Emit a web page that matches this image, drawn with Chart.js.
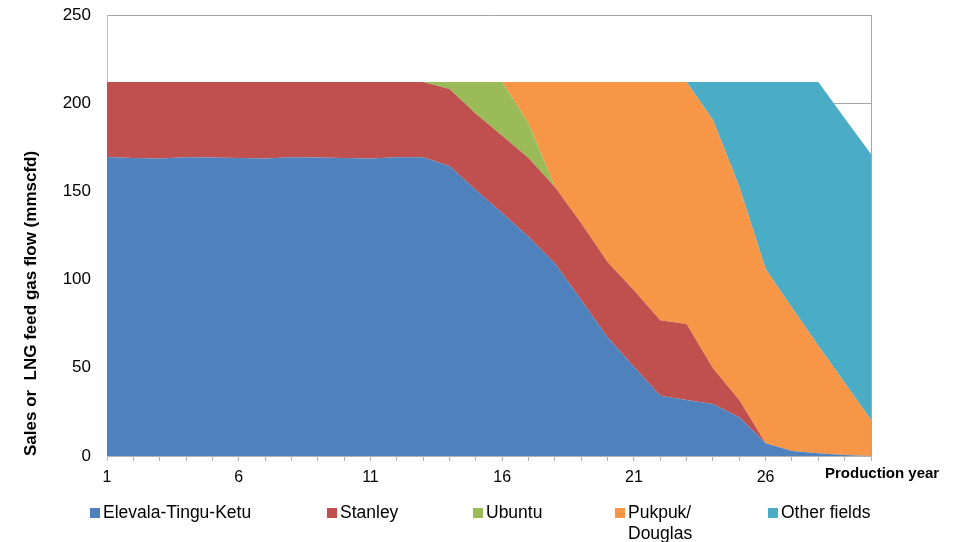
<!DOCTYPE html>
<html>
<head>
<meta charset="utf-8">
<script src="https://cdn.jsdelivr.net/npm/chart.js@4/dist/chart.umd.min.js"></script>
<style>
    body { margin: 0; background: #fff; }
    #wrap { position: relative; width: 958px; height: 542px; font-family: "Liberation Sans", Arial, sans-serif; }
    .x-title { position: absolute; left: 825px; top: 464px; font-size: 15px; font-weight: bold; color: #000; white-space: nowrap; }
    .legend-item { position: absolute; top: 502px; font-size: 17.5px; line-height: 21px; color: #000; }
    .legend-item .box { position: absolute; left: 0; top: 6px; width: 10px; height: 10px; }
    .legend-item .txt { position: absolute; left: 13px; top: 0; }
</style>
</head>
<body>
<div id="wrap">
    <canvas id="gasChart" width="958" height="542"></canvas>
    <div class="x-title">Production year</div>
    <div id="legend"></div>
</div>

<script>
// ============ DATA ============
const years = ["1","2","3","4","5","6","7","8","9","10","11","12","13","14","15",
               "16","17","18","19","20","21","22","23","24","25","26","27","28","29","30"];

const elevala = [169.5,169,168.7,169.4,169.2,169,168.7,169.4,169.2,169,168.7,169.4,169.4,164.4,150.8,
                 137.7,124.3,109.2,88.4,67.3,50.6,34.2,31.7,29.5,21.9,7.2,2.8,1.5,0.6,0];
const stanley = [42.5,43,43.3,42.6,42.8,43,43.3,42.6,42.8,43,43.3,42.6,42.6,43.6,43.2,
                 43.8,44.7,43.3,43.5,42.7,43.4,42.8,43.1,20.2,9.8,0,0,0,0,0];
const ubuntu  = [0,0,0,0,0,0,0,0,0,0,0,0,0,4,18,
                 30.5,19.6,0,0,0,0,0,0,0,0,0,0,0,0,0];
const pukpuk  = [0,0,0,0,0,0,0,0,0,0,0,0,0,0,0,
                 0,23.4,59.5,80.1,102,118,135,137.2,140.8,121,98.8,81.2,61,40.9,20.4];
const other   = [0,0,0,0,0,0,0,0,0,0,0,0,0,0,0,
                 0,0,0,0,0,0,0,0,21.5,59.3,106,128,149.5,149.9,150.8];

const seriesNames  = ["Elevala-Tingu-Ketu", "Stanley", "Ubuntu", "Pukpuk/ Douglas", "Other fields"];
const seriesColors = ["#4F81BD", "#C0504D", "#9BBB59", "#F79646", "#4BACC6"];
const yTicks = [0, 50, 100, 150, 200, 250];

// left edge of each legend entry
const legendX = [90, 327, 473, 615, 768];

// ============ CHART ============
const fontFamily = "'Liberation Sans', Arial, sans-serif";
Chart.defaults.font.family = fontFamily;
Chart.defaults.color = "#000";

const seriesData = [elevala, stanley, ubuntu, pukpuk, other];
const datasets = seriesData.map((values, i) => ({
    label: seriesNames[i],
    data: values,
    backgroundColor: seriesColors[i],
    borderColor: "transparent",
    borderWidth: 0,
    pointRadius: 0,
    pointHitRadius: 0,
    tension: 0,
    fill: i === 0 ? "origin" : "-1"
}));

// right edge of the plot area
const plotBorder = {
    id: "plotBorder",
    afterDatasetsDraw(chart) {
        const {ctx, chartArea} = chart;
        ctx.save();
        ctx.strokeStyle = "#a6a6a6";
        ctx.lineWidth = 1;
        ctx.beginPath();
        ctx.moveTo(Math.round(chartArea.right) + 0.5, chartArea.top);
        ctx.lineTo(Math.round(chartArea.right) + 0.5, chartArea.bottom);
        ctx.stroke();
        ctx.restore();
    }
};

new Chart(document.getElementById("gasChart"), {
    type: "line",
    data: { labels: years, datasets },
    options: {
        responsive: false,
        animation: false,
        devicePixelRatio: 1,
        layout: { padding: { left: 0, top: 15, right: 87, bottom: 56 } },
        plugins: { legend: { display: false }, tooltip: { enabled: false } },
        scales: {
            x: {
                offset: false,
                grid: { drawOnChartArea: false, drawTicks: true, tickLength: 5, color: "#b3b3b3" },
                border: { color: "#b3b3b3" },
                ticks: {
                    autoSkip: false,
                    maxRotation: 0,
                    padding: 7,
                    font: { size: 16 },
                    callback: (v, i) => (i % 5 === 0 ? years[i] : "")
                },
                afterFit: s => { s.height = 30; }
            },
            y: {
                stacked: true,
                min: 0,
                max: 250,
                afterBuildTicks: s => { s.ticks = yTicks.map(v => ({ value: v })); },
                // invisible tick marks give the label gap without padding the top of the plot
                grid: { drawTicks: true, tickLength: 16, tickColor: "transparent", color: "#a6a6a6" },
                border: { color: "#bfbfbf" },
                ticks: { padding: 0, font: { size: 17 } },
                title: {
                    display: true,
                    text: "Sales or  LNG feed gas flow (mmscfd)",
                    align: "start",
                    font: { size: 17, weight: "bold" },
                    padding: { top: 21, bottom: 0 }
                },
                afterFit: s => { s.width = 107; }
            }
        }
    },
    plugins: [plotBorder]
});

// ============ LEGEND ============
const legend = document.getElementById("legend");
seriesNames.forEach((name, i) => {
    const item = document.createElement("div");
    item.className = "legend-item";
    item.style.left = legendX[i] + "px";
    const next = i < legendX.length - 1 ? legendX[i + 1] : 958;
    item.innerHTML = `<span class="box" style="background:${seriesColors[i]}"></span>` +
                     `<span class="txt" style="width:${next - legendX[i] - 40}px">${name}</span>`;
    legend.appendChild(item);
});
</script>
</body>
</html>
